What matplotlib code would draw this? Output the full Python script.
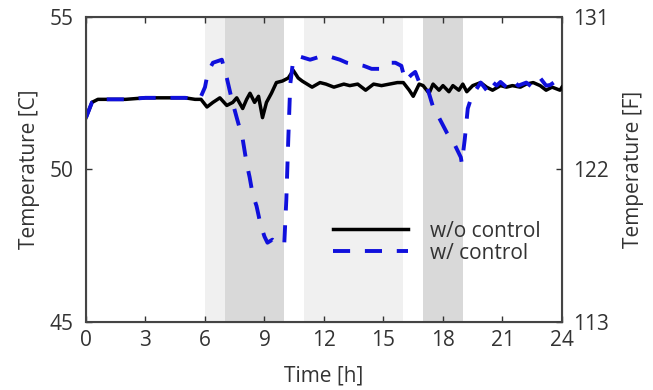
import matplotlib
matplotlib.use('Agg')
import matplotlib.pyplot as plt

# --- Data ---
t_wo = [0, 0.3, 0.6, 1, 2, 3, 4, 5, 5.5, 5.8, 6.1, 6.4, 6.75, 7.1, 7.4, 7.6, 7.9,
        8.1, 8.27, 8.5, 8.7, 8.9, 9.1, 9.35, 9.6, 9.9, 10.2, 10.45, 10.7, 10.9,
        11.4, 11.8, 12.1, 12.5, 13.0, 13.3, 13.7, 14.1, 14.5, 14.9, 15.3, 15.7,
        16.0, 16.3, 16.5, 16.8, 17.0, 17.3, 17.5, 17.8, 18.0, 18.3, 18.5, 18.8,
        19.0, 19.2, 19.5, 19.9, 20.2, 20.5, 20.9, 21.2, 21.5, 21.9, 22.2, 22.55,
        22.9, 23.2, 23.5, 23.9, 24]
temp_wo = [51.7, 52.2, 52.3, 52.3, 52.3, 52.35, 52.35, 52.35, 52.3, 52.3, 52.05,
           52.2, 52.35, 52.1, 52.2, 52.35, 52.0, 52.3, 52.5, 52.2, 52.4, 51.7,
           52.2, 52.5, 52.85, 52.9, 53.0, 53.25, 53.0, 52.9, 52.7, 52.85, 52.8,
           52.7, 52.8, 52.75, 52.8, 52.6, 52.8, 52.75, 52.8, 52.85, 52.85, 52.6,
           52.4, 52.8, 52.75, 52.5, 52.8, 52.6, 52.75, 52.55, 52.75, 52.6, 52.8,
           52.55, 52.75, 52.85, 52.7, 52.6, 52.75, 52.7, 52.75, 52.7, 52.8, 52.85,
           52.75, 52.6, 52.7, 52.6, 52.7]

t_w = [0, 0.3, 0.6, 1, 2, 3, 4, 5, 5.5, 5.8, 6.0, 6.15, 6.4, 6.85, 7.1, 7.35, 7.6,
       7.9, 8.1, 8.25, 8.4, 8.6, 8.8, 9.0, 9.15, 9.4, 9.6, 9.85, 10.0, 10.1, 10.2,
       10.3, 10.45, 10.8, 11.3, 11.8, 12.3, 12.8, 13.15, 13.6, 14.0, 14.4, 14.8,
       15.2, 15.6, 15.9, 16.1, 16.4, 16.6, 16.9, 17.2, 17.5, 17.8, 18.2, 18.6,
       18.9, 18.95, 19.1, 19.25, 19.45, 19.65, 19.9, 20.2, 20.4, 20.7, 20.9, 21.2,
       21.5, 21.8, 22.2, 22.5, 22.9, 23.2, 23.4, 23.7, 24]
temp_w = [51.7, 52.2, 52.3, 52.3, 52.3, 52.35, 52.35, 52.35, 52.3, 52.4, 52.7,
          53.2, 53.5, 53.6, 53.0, 52.3, 51.7, 51.0, 50.2, 49.75, 49.2, 48.8,
          48.2, 47.8, 47.6, 47.7, 47.6, 47.5, 47.6, 49.0, 51.0, 52.8, 53.6, 53.7,
          53.6, 53.7, 53.7, 53.6, 53.5, 53.45, 53.4, 53.3, 53.3, 53.5, 53.5, 53.4,
          52.9, 53.1, 53.2, 52.7, 52.7, 52.05, 51.7, 51.2, 50.8, 50.4, 50.2, 51.0,
          52.0, 52.4, 52.6, 52.85, 52.6, 52.93, 52.75, 52.87, 52.7, 52.93, 52.75,
          52.85, 52.7, 53.0, 52.75, 52.77, 52.9, 52.75]

light_spans = [(6, 10), (11, 16)]
dark_spans = [(7, 10), (17, 19)]

xticks = [0, 3, 6, 9, 12, 15, 18, 21, 24]
c_ticks = [45, 50, 55]
f_ticks = [113, 122, 131]

# --- Style ---
plt.rcParams.update({
    'font.family': ['Open Sans', 'DejaVu Sans'],
    'font.size': 15,
    'xtick.labelsize': 15,
    'ytick.labelsize': 15,
    'text.color': '#333333',
    'axes.labelcolor': '#333333',
    'xtick.color': '#333333',
    'ytick.color': '#333333',
    'axes.edgecolor': '#444444',
})

fig = plt.figure(figsize=(6.53, 3.90), dpi=100)
ax = fig.add_axes([0.1317, 0.1744, 0.7289, 0.782])

for a, b in light_spans:
    ax.axvspan(a, b, color='#f0f0f0', lw=0, zorder=0)
for a, b in dark_spans:
    ax.axvspan(a, b, color='#d9d9d9', lw=0, zorder=1)

ax.plot(t_wo, temp_wo, color='black', lw=2.5, label='w/o control', zorder=3)
ax.plot(t_w, temp_w, color='#1010dc', lw=2.8, dashes=[4.4, 3.8],
        label='w/ control', zorder=4)

ax.set_xlim(0, 24)
ax.set_ylim(45, 55)
ax.set_xticks(xticks)
ax.set_yticks(c_ticks)
ax.tick_params(direction='in', top=True, length=4, width=1)
ax.tick_params(axis='x', pad=6)
ax.tick_params(axis='y', pad=9)
ax.set_xlabel('Time [h]', labelpad=10)
ax.set_ylabel('Temperature [C]', labelpad=7)
for s in ax.spines.values():
    s.set_linewidth(1.5)

ax2 = ax.twinx()
ax2.set_ylim(113, 131)
ax2.set_yticks(f_ticks)
ax2.tick_params(direction='in', length=4, width=1, pad=8)
ax2.set_ylabel('Temperature [F]', labelpad=10)

ax.legend(loc='center left', bbox_to_anchor=(0.519, 0.262), frameon=False,
          fontsize=15, handlelength=3.6, handletextpad=1.05, labelspacing=0.05,
          borderpad=0, borderaxespad=0)

fig.savefig('out.png', dpi=100)
